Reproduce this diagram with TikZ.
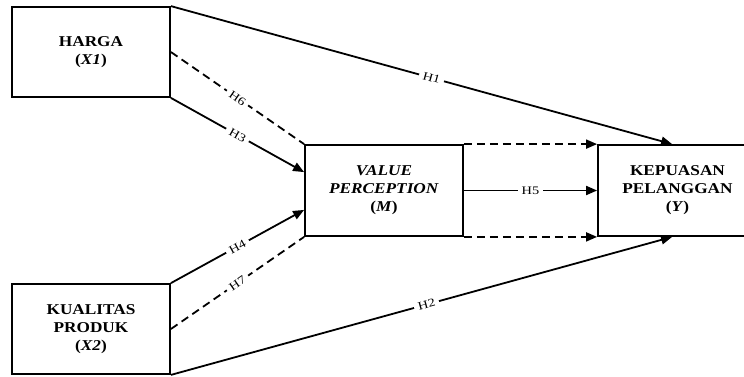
\documentclass[tikz,border=0pt]{standalone}
\usepackage{fontspec}
\setmainfont{Liberation Serif}
\newfontfamily\boxfont[FakeStretch=1.15]{Liberation Serif}
\newfontfamily\labfont[FakeStretch=1.25]{Liberation Serif}
\usetikzlibrary{arrows.meta}
\begin{document}
\begin{tikzpicture}[x=1pt,y=-1pt,
  var/.style={draw,line width=1.8pt,rectangle,inner sep=0pt,align=center,
    font=\boxfont\bfseries\fontsize{15}{18}\selectfont},
  link/.style={line width=1.8pt},
  dashlink/.style={line width=1.8pt,dash pattern=on 8pt off 5pt},
  tip/.style={-{Triangle[length=11pt,width=9pt]}},
  lab/.style={fill=white,inner xsep=4pt,inner ysep=1pt,sloped,font=\labfont\fontsize{11.5}{13}\selectfont}]
\useasboundingbox (0,0) rectangle (744,376);
\clip (0,0) rectangle (744,376);
\node[var,minimum width=158pt,minimum height=90pt] (X1) at (91,52) {HARGA\\(\textit{X1})};
\node[var,minimum width=158pt,minimum height=90pt] (X2) at (91,329) {KUALITAS\\PRODUK\\(\textit{X2})};
\node[var,minimum width=158pt,minimum height=91pt] (M) at (384,190.5) {\textit{VALUE}\\\textit{PERCEPTION}\\(\textit{M})};
\node[var,minimum width=159pt,minimum height=91pt] (Y) at (677.5,190.5) {KEPUASAN\\PELANGGAN\\(\textit{Y})};
% direct paths
\draw[link,tip] (X1.north east) -- node[lab,pos=0.52] {H1} ([xshift=75pt]Y.north west);
\draw[link,tip] (X2.south east) -- node[lab,pos=0.51] {H2} ([xshift=75pt]Y.south west);
% to mediator
\draw[dashlink] (X1.east) -- node[lab] {H6} (M.north west);
\draw[link,tip] (X1.south east) -- node[lab] {H3} ([yshift=-28pt]M.north west);
\draw[link,tip] (X2.north east) -- node[lab] {H4} ([yshift=27pt]M.south west);
\draw[dashlink] (X2.east) -- node[lab] {H7} (M.south west);
% mediator to Y
\draw[dashlink,tip] (M.north east) -- (Y.north west);
\draw[link,tip] (M.east) -- node[lab,sloped=false] {H5} (Y.west);
\draw[dashlink,tip] (M.south east) -- (Y.south west);
\end{tikzpicture}
\end{document}
